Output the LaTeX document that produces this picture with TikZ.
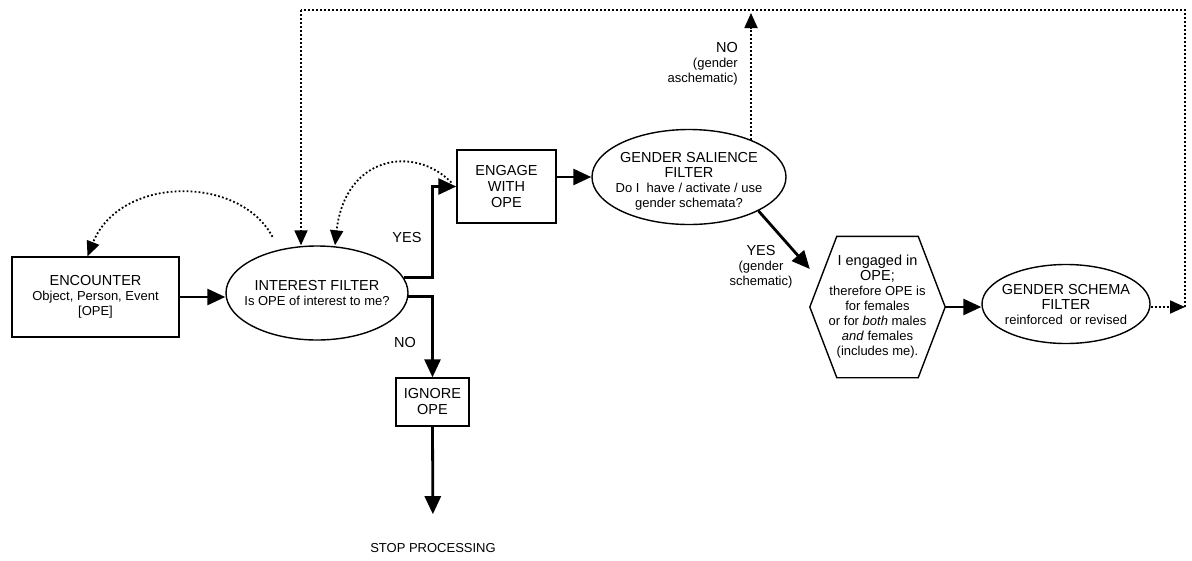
\documentclass[tikz,border=0pt]{standalone}
\usepackage{fontspec}
\setmainfont{Liberation Sans}
\usetikzlibrary{shapes.geometric,arrows.meta}
\newcommand{\headsz}{\fontsize{14.5}{16}\selectfont}
\newcommand{\notesz}{\fontsize{13}{15}\selectfont}

\begin{document}
\begin{tikzpicture}[x=1pt,y=-1pt,
    every node/.style={inner sep=0pt,align=center,font=\notesz},
    box/.style={draw,line width=1.4pt,rectangle},
    oval/.style={draw,line width=1.4pt,ellipse},
    solidarrow/.style={line width=2.8pt,-{Triangle[length=18pt,width=16pt]}},
    dotline/.style={line width=1.8pt,dash pattern=on 1.8pt off 2.2pt},
    dotarrow/.style={dotline,-{Triangle[length=15pt,width=13pt]}}]
            \useasboundingbox (0,0) rectangle (1192,560);

            %Nodes
            \node[box,minimum width=167pt,minimum height=80pt] at (95.5,297) (enc)
                {\headsz ENCOUNTER\\ Object, Person, Event\\ {[OPE]}};
            \node[oval,minimum width=182pt,minimum height=94pt] at (317,293) (interest) {};
            \node at (interest.center) (interestT)
                {\headsz INTEREST FILTER\\ Is OPE of interest to me?};
            \node[box,font=\headsz,minimum width=99pt,minimum height=73pt] at (506.5,186.5) (engage)
                {ENGAGE\\ WITH\\ OPE};
            \node[box,font=\headsz,minimum width=73pt,minimum height=48pt] at (432.5,402) (ignore)
                {IGNORE\\ OPE};
            \node at (433,548) (stop) {STOP PROCESSING};
            \node[oval,minimum width=194pt,minimum height=95pt] at (689,177) (salience) {};
            \node at (689,181) (salienceT)
                {\headsz GENDER SALIENCE\\ \headsz FILTER\\ Do I\ \ have / activate / use\\ gender schemata?};
            \node[minimum width=135pt,minimum height=141pt] at (877.5,307) (hex)
                {\headsz I engaged in\\ \headsz OPE;\\ therefore OPE is\\ for females\\
                 or for \textit{both} males\\ \textit{and} females\\ (includes me).};
            \node[oval,minimum width=168pt,minimum height=79pt] at (1066,304) (schema) {};
            \node at (schema.center) (schemaT)
                {\headsz GENDER SCHEMA\\ \headsz FILTER\\ reinforced\ \ or revised};

            %Labels
            \node[font=\headsz] at (407,238) (yesA) {YES};
            \node[font=\headsz] at (405,343) (noA) {NO};
            \node[anchor=east,align=right] at (738,64) (noB)
                {\headsz NO\\ (gender\\ aschematic)};
            \node at (761,267) (yesB) {\headsz YES\\ (gender\\ schematic)};

            %Coordinates
            \coordinate (backR) at (1185,307);
            \coordinate (topR)  at (1185,10);
            \coordinate (topL)  at (301,10);
            \coordinate (noEnd) at (750,13);

            %Hexagon
            \draw[line width=1.4pt] (hex.west) -- ([xshift=27pt]hex.north west)
                -- ([xshift=-27pt]hex.north east) -- (hex.east)
                -- ([xshift=-27pt]hex.south east) -- ([xshift=27pt]hex.south west) -- cycle;

            %Lines
            \draw[solidarrow] (enc.east) -- (enc.east -| interest.west);
            \draw[solidarrow] (interest.10) -- ++(29,0) |- (engage.west);
            \draw[solidarrow] (interest.-2) -| (ignore.north);
            \draw[solidarrow,shorten >=29pt] (ignore.south) -- (stop.north);
            \draw[solidarrow] (engage.east |- salience.west) -- (salience.west);
            \draw[solidarrow] (salience.-26) -- ([yshift=38pt]hex.west);
            \draw[solidarrow] (hex.east) -- (hex.east -| schema.west);

            %Feedback
            \draw[dotarrow] (schema.east |- backR) -- (backR);
            \draw[dotline] (backR) -- (topR) -- (topL);
            \draw[dotarrow] (topL) -- (topL |- interest.north);
            \draw[dotarrow] (salience.31) -- (salience.31 |- noEnd);
            \draw[dotarrow] ([xshift=-5pt,yshift=4pt]engage.west)
                .. controls (415,145) and (345,155) .. ([xshift=18pt]interest.north);
            \draw[dotarrow] ([xshift=-10pt,yshift=12pt]interest.128)
                .. controls (240,175) and (120,175) .. ([xshift=-8pt]enc.north);
        \end{tikzpicture}
\end{document}
